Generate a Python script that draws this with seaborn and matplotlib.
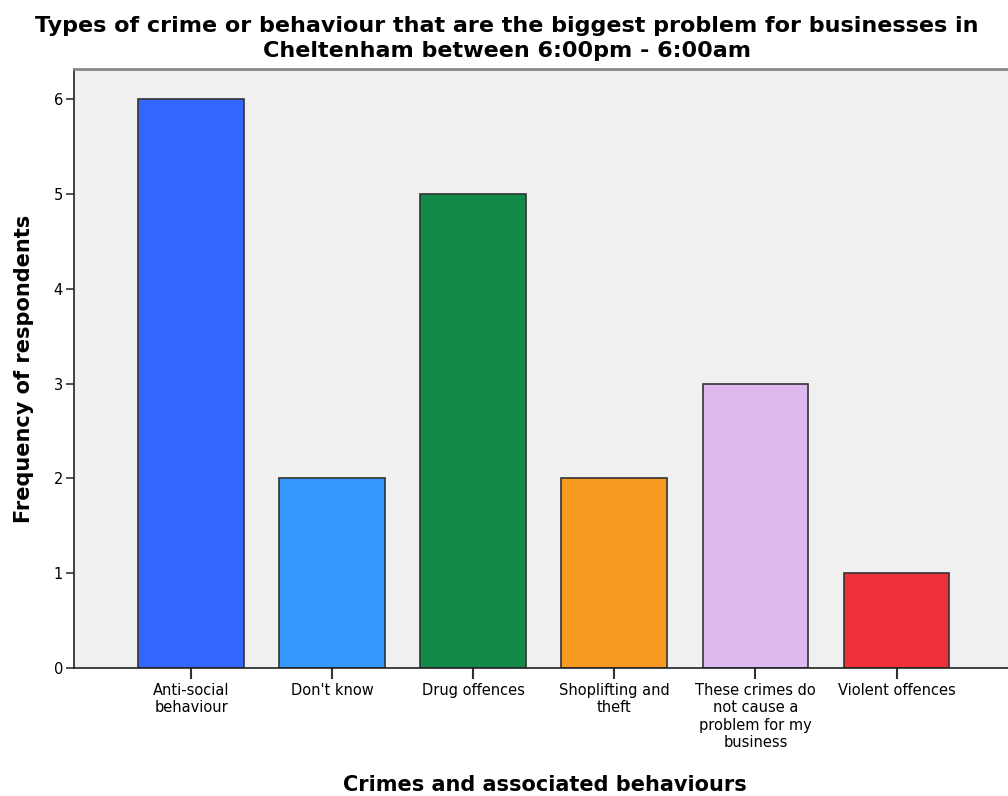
import matplotlib
matplotlib.use("Agg")
import matplotlib.pyplot as plt
import seaborn as sns
import pandas as pd

categories = [
    "Anti-social\nbehaviour",
    "Don't know",
    "Drug offences",
    "Shoplifting and\ntheft",
    "These crimes do\nnot cause a\nproblem for my\nbusiness",
    "Violent offences",
]
frequencies = [6, 2, 5, 2, 3, 1]
bar_colors = ["#3366FF", "#3399FF", "#138A47", "#F89A21", "#DDB9F0", "#EE3138"]

sns.set_style("white")
plt.rcParams["font.family"] = ["DejaVu Sans"]
plt.rcParams["text.color"] = "black"
plt.rcParams["axes.labelcolor"] = "black"
plt.rcParams["xtick.color"] = "black"
plt.rcParams["ytick.color"] = "black"

df = pd.DataFrame({"category": categories, "count": frequencies})

fig = plt.figure(figsize=(10.08, 7.96), dpi=100)
ax = fig.add_axes([0.0734, 0.1608, 0.935, 0.7525])
ax.set_facecolor("#F0F0F0")

sns.barplot(
    data=df, x="category", y="count", hue="category",
    palette=bar_colors, legend=False, width=0.75,
    edgecolor="#333333", linewidth=1.2, saturation=1, ax=ax,
)

ax.set_xlim(-0.83, 5.85)
ax.set_ylim(0, 6.32)
ax.set_yticks(range(0, 7))

for side in ["left", "bottom"]:
    ax.spines[side].set_color("#222222")
    ax.spines[side].set_linewidth(1.2)
ax.spines["top"].set_color("#888888")
ax.spines["top"].set_linewidth(2)
ax.spines["right"].set_visible(False)

ax.tick_params(axis="y", left=True, direction="out", length=6, width=1.2,
               color="#333333", labelsize=10.5, pad=2)
ax.tick_params(axis="x", bottom=True, direction="out", length=8, width=1.5,
               color="#333333", labelsize=10.5, pad=3)
for lbl in ax.get_xticklabels():
    lbl.set_linespacing(1.18)

ax.set_xlabel("Crimes and associated behaviours", fontsize=15, fontweight="bold",
              labelpad=18)
ax.set_ylabel("Frequency of respondents", fontsize=15, fontweight="bold",
              labelpad=14)

fig.text(
    0.503, 0.980,
    "Types of crime or behaviour that are the biggest problem for businesses in\n"
    "Cheltenham between 6:00pm - 6:00am",
    ha="center", va="top", fontsize=16, fontweight="bold", linespacing=1.3,
)

fig.savefig("out.png", dpi=100)
